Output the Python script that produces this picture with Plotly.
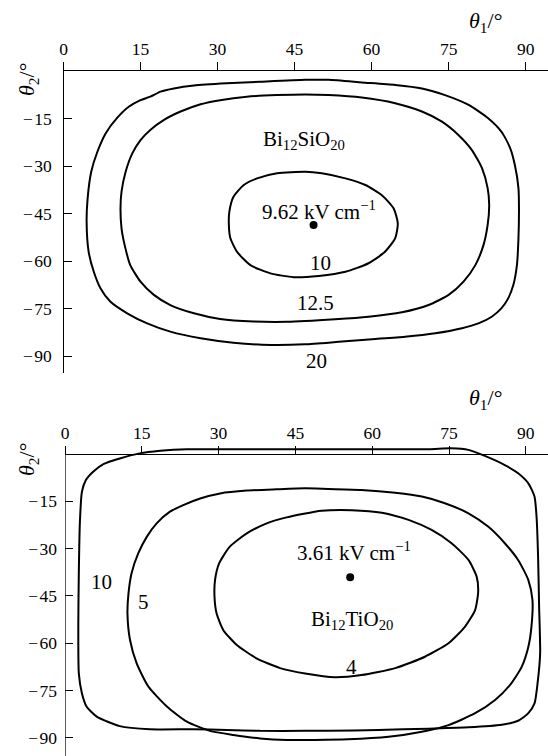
import plotly.graph_objects as go

# ---------------- data ----------------
ticks_theta1 = [0, 15, 30, 45, 60, 75, 90]
ticks_theta2 = [-15, -30, -45, -60, -75, -90]
tick_text_theta2 = ["\u2212\u200a15", "\u2212\u200a30", "\u2212\u200a45", "\u2212\u200a60", "\u2212\u200a75", "\u2212\u200a90"]

# Bi12SiO20 contours (theta1, theta2)
bso_20_t1 = [47.1, 38.3, 31.8, 25.4, 21.5, 18.9, 16.9, 15.0, 12.7, 10.4, 8.2, 6.6, 5.4, 4.7, 4.5, 4.9, 5.9, 7.2,
             9.1, 12.4, 16.3, 20.8, 26.7, 33.1, 40.3, 47.0, 53.6, 60.1, 66.5, 72.4, 77.6, 80.8, 83.4, 85.3, 86.6,
             87.6, 88.3, 88.6, 88.7, 88.6, 87.9, 87.0, 85.3, 82.7, 78.9, 74.3, 69.8, 64.6, 58.1, 51.6, 47.1]
bso_20_t2 = [-2.8, -3.4, -3.9, -4.6, -5.5, -6.5, -8.1, -9.2, -11.3, -14.9, -19.7, -25.5, -31.8, -40.2, -47.6, -57.1,
             -63.4, -68.6, -72.8, -76.5, -79.7, -82.3, -84.4, -85.8, -86.5, -86.3, -85.5, -84.7, -83.9, -82.8, -81.2,
             -79.7, -77.6, -74.9, -71.8, -67.6, -61.3, -52.8, -43.4, -37.0, -29.7, -24.4, -19.2, -14.9, -10.7, -7.6,
             -5.5, -4.4, -3.6, -2.8, -2.8]

bso_125_t1 = [47.1, 41.6, 35.7, 30.5, 26.7, 22.8, 19.5, 16.9, 15.0, 13.4, 12.1, 11.3, 11.1, 11.3, 11.9, 13.0, 15.0,
              17.6, 20.8, 25.4, 30.5, 37.0, 43.5, 52.9, 59.4, 65.9, 71.1, 75.0, 77.9, 80.2, 81.8, 82.6, 82.9, 82.6,
              81.5, 79.5, 76.9, 73.7, 69.8, 64.6, 58.1, 51.6, 47.1]
bso_125_t2 = [-7.4, -7.6, -8.1, -9.2, -10.5, -12.8, -15.5, -18.6, -21.8, -26.0, -31.8, -38.1, -43.4, -49.7, -54.9,
              -61.3, -66.5, -70.7, -73.9, -76.5, -78.3, -79.1, -79.2, -78.4, -77.6, -76.2, -73.9, -70.7, -66.5, -61.3,
              -54.9, -48.6, -42.3, -37.0, -30.7, -24.9, -20.2, -16.0, -12.8, -10.2, -8.4, -7.6, -7.4]

bso_10_t1 = [47.1, 41.6, 37.7, 35.1, 33.1, 32.3, 32.2, 32.5, 33.8, 36.4, 40.3, 44.8, 49.7, 54.9, 59.4, 62.6, 64.6,
             65.1, 64.3, 62.0, 58.8, 54.9, 50.3, 47.1]
bso_10_t2 = [-31.8, -32.3, -33.9, -36.0, -39.7, -44.4, -48.6, -52.8, -57.1, -61.3, -63.9, -65.1, -64.7, -63.4, -60.7,
             -57.1, -52.8, -48.1, -43.4, -39.2, -36.0, -33.9, -32.3, -31.8]

bso_min_t1 = [48.7]
bso_min_t2 = [-48.6]

# Bi12TiO20 contours (theta1, theta2)
bto_10_t1 = [46.9, 38.1, 30.3, 23.8, 18.6, 14.6, 10.7, 7.5, 5.5, 4.1, 3.3, 2.9, 2.7, 2.6, 2.7, 3.3, 4.2, 6.2, 10.7,
             16.6, 25.1, 31.6, 38.1, 46.9, 51.4, 61.2, 71.0, 78.8, 85.3, 88.5, 90.5, 91.7, 92.3, 92.8, 92.6, 92.4,
             92.1, 91.7, 90.5, 88.5, 85.9, 82.0, 78.8, 75.5, 71.0, 57.9, 46.9]
bto_10_t2 = [1.5, 1.5, 1.5, 1.5, 1.0, 0.2, -1.4, -3.2, -5.6, -8.2, -12.0, -22.0, -37.8, -53.7, -69.6, -75.9, -80.1,
             -83.3, -86.3, -87.3, -87.3, -87.5, -87.8, -87.8, -87.8, -87.5, -87.1, -86.7, -85.9, -84.6, -82.2, -79.1,
             -72.7, -63.2, -48.4, -32.6, -19.9, -13.5, -9.3, -6.1, -3.5, -0.6, 1.3, 1.8, 1.5, 1.5, 1.5]

bto_5_t1 = [46.9, 41.3, 35.5, 30.3, 26.4, 23.1, 20.5, 17.9, 16.0, 14.3, 13.0, 12.4, 12.2, 12.7, 14.0, 16.3, 19.9,
            23.8, 28.3, 32.9, 38.1, 43.3, 48.8, 55.3, 63.2, 69.7, 74.9, 80.1, 84.0, 86.9, 89.2, 90.5, 91.1, 91.3,
            90.5, 88.5, 85.9, 82.7, 78.8, 74.2, 69.7, 64.5, 57.9, 51.4, 46.9]
bto_5_t2 = [-10.9, -11.2, -11.6, -12.5, -14.1, -16.2, -18.3, -22.0, -26.2, -31.5, -37.8, -44.2, -50.5, -59.0, -66.4,
            -73.8, -80.1, -84.9, -87.8, -89.1, -90.2, -90.7, -90.7, -90.5, -89.7, -88.1, -86.0, -82.2, -78.0, -73.3,
            -67.5, -61.1, -54.8, -46.3, -40.0, -33.6, -28.3, -23.1, -18.8, -15.6, -13.5, -12.3, -11.4, -11.1, -10.9]

bto_4_t1 = [56.0, 50.1, 43.3, 39.4, 35.5, 32.2, 30.1, 29.3, 29.2, 29.6, 30.9, 33.5, 37.4, 42.0, 46.9, 52.7,
            57.9, 64.5, 70.3, 74.9, 78.1, 80.1, 80.7, 80.4, 78.8, 75.5, 71.6, 67.1, 61.9, 56.0]
bto_4_t2 = [-17.8, -18.0, -20.1, -22.0, -25.2, -29.4, -34.7, -40.0, -45.3, -50.5, -55.8, -60.5, -64.8, -67.9,
            -69.6, -70.8, -70.1, -67.9, -64.3, -60.0, -54.8, -49.5, -43.7, -38.9, -33.6, -28.3, -24.1, -20.9, -18.6,
            -17.8]

bto_min_t1 = [55.7]
bto_min_t2 = [-39.1]

# ---------------- figure ----------------
W, H = 548, 756
SERIF = "Liberation Serif, Times New Roman, serif"
TICK_FS = 17.5
LBL_FS = 21
TITLE_FS = 22

fig = go.Figure()

def px_x(p):
    return p / W

def px_y(p):
    return 1 - p / H

line_style = dict(color="black", width=2)

for t1, t2 in [(bso_20_t1, bso_20_t2), (bso_125_t1, bso_125_t2), (bso_10_t1, bso_10_t2)]:
    fig.add_trace(go.Scatter(x=t1, y=t2, mode="lines", line=dict(**line_style, shape="spline", smoothing=0.6),
                             xaxis="x", yaxis="y", showlegend=False, hoverinfo="skip"))
fig.add_trace(go.Scatter(x=bso_min_t1, y=bso_min_t2, mode="markers", marker=dict(color="black", size=8),
                         xaxis="x", yaxis="y", showlegend=False, hoverinfo="skip"))

for t1, t2 in [(bto_10_t1, bto_10_t2), (bto_5_t1, bto_5_t2), (bto_4_t1, bto_4_t2)]:
    fig.add_trace(go.Scatter(x=t1, y=t2, mode="lines", line=dict(**line_style, shape="spline", smoothing=0.6),
                             xaxis="x2", yaxis="y2", showlegend=False, hoverinfo="skip"))
fig.add_trace(go.Scatter(x=bto_min_t1, y=bto_min_t2, mode="markers", marker=dict(color="black", size=8),
                         xaxis="x2", yaxis="y2", showlegend=False, hoverinfo="skip"))

# top panel geometry (pixels)
top_x0, top_ppd_x = 63.5, 5.135
top_y0, top_y1, top_ppd_y = 71.0, 373.0, 3.167
# bottom panel geometry
bot_x0, bot_ppd_x = 65.0, 5.12
bot_yzero, bot_ppd_y = 454.0, 3.153
bot_ytop_val = 2.5
bot_ytop_px = bot_yzero - bot_ppd_y * bot_ytop_val
bot_ybot_val = -(H - bot_yzero) / bot_ppd_y

axis_common = dict(linecolor="black", linewidth=1.3, tickcolor="black", tickwidth=1.3,
                   ticklen=8, showgrid=False, zeroline=False, automargin=False,
                   tickfont=dict(family=SERIF, size=TICK_FS, color="black"))

fig.update_layout(
    width=W, height=H, margin=dict(l=0, r=0, t=0, b=0),
    template="none", plot_bgcolor="white", paper_bgcolor="white", showlegend=False,
    xaxis=dict(**axis_common, showline=True, domain=[px_x(top_x0), 1], range=[0, (W - top_x0) / top_ppd_x],
               side="top", anchor="y", ticks="outside", tickvals=ticks_theta1),
    yaxis=dict(**axis_common, showline=True, domain=[px_y(top_y1), px_y(top_y0)],
               range=[-(top_y1 - top_y0) / top_ppd_y, 0], anchor="x",
               ticks="inside", tickvals=ticks_theta2, ticktext=tick_text_theta2, ticklabelstandoff=7),
    xaxis2=dict(**axis_common, showline=True, domain=[px_x(bot_x0), 1], range=[0, (W - bot_x0) / bot_ppd_x],
                side="top", anchor="free", position=px_y(bot_yzero), ticks="outside", tickvals=ticks_theta1),
    yaxis2=dict(**axis_common, showline=False,
                domain=[0, px_y(bot_ytop_px)], range=[bot_ybot_val, bot_ytop_val], anchor="x2",
                ticks="inside", tickvals=ticks_theta2, ticktext=tick_text_theta2, ticklabelstandoff=7),
)

# bottom y-axis line drawn from theta2 = 0 downward
fig.add_shape(type="line", xref="x2", yref="y2", x0=0, x1=0, y0=0, y1=bot_ybot_val,
              line=dict(color="black", width=1.3))

def lab(text, x, y, xr, yr, size=LBL_FS, **kw):
    fig.add_annotation(text=text, x=x, y=y, xref=xr, yref=yr, showarrow=False,
                       font=dict(family=SERIF, size=size, color="black"),
                       xanchor="center", yanchor="middle", **kw)

# top panel labels
lab("Bi<sub>12</sub>SiO<sub>20</sub>", 46.9, -21.8, "x", "y")
lab("9.62 kV cm<sup>\u22121</sup>", 49.7, -43.9, "x", "y")
lab("10", 50.0, -60.7, "x", "y")
lab("12.5", 49.0, -73.4, "x", "y")
lab("20", 49.2, -91.6, "x", "y")

# bottom panel labels
lab("3.61 kV cm<sup>\u22121</sup>", 56.4, -31.0, "x2", "y2")
lab("Bi<sub>12</sub>TiO<sub>20</sub>", 56.1, -52.6, "x2", "y2")
lab("4", 56.0, -67.5, "x2", "y2")
lab("10", 7.2, -40.5, "x2", "y2")
lab("5", 15.3, -46.8, "x2", "y2")

# axis titles
for (tx, ty) in [(485, 22), (485, 399)]:
    lab("<i>\u03b8</i><sub>1</sub>/\u00b0", px_x(tx), px_y(ty), "paper", "paper", size=TITLE_FS)
for (tx, ty) in [(28, 80), (28, 460)]:
    lab("<i>\u03b8</i><sub>2</sub>/\u00b0", px_x(tx), px_y(ty), "paper", "paper", size=TITLE_FS, textangle=-90)

fig.write_html("out.html", config={"displayModeBar": False},
               post_script="document.body.style.margin='0px';")
